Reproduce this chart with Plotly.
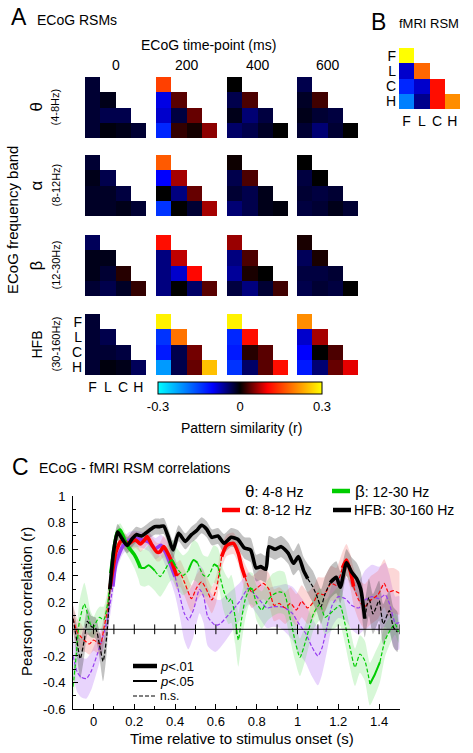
import plotly.graph_objects as go

W, H = 473, 753
FONT = "Liberation Sans, Arial, sans-serif"

# ---------------- Panel A / B data (lower-triangle RSM values; order FF, LF, LL, CF, CL, CC, HF, HL, HC, HH)
rsm_labels = ["F", "L", "C", "H"]
time_points = ["0", "200", "400", "600"]
band_symbols = ["θ", "α", "β", "HFB"]
band_ranges = ["(4-8Hz)", "(8-12Hz)", "(12-30Hz)", "(30-160Hz)"]

rsm_theta = [
    [-0.02, -0.02, -0.01, -0.02, -0.03, -0.03, -0.02, -0.005, -0.01, -0.02],
    [0.15, -0.09, 0.035, -0.08, -0.025, 0.04, -0.13, 0.02, 0.008, 0.055],
    [0.0, -0.03, 0.03, -0.01, -0.045, -0.025, -0.04, -0.03, -0.015, 0.0],
    [-0.03, -0.015, 0.025, -0.01, -0.02, -0.025, -0.02, -0.045, -0.02, 0.0],
]
rsm_alpha = [
    [-0.02, -0.01, -0.03, -0.015, -0.015, -0.025, -0.015, -0.015, -0.01, -0.02],
    [0.17, -0.1, 0.065, 0.0, -0.05, 0.04, -0.14, 0.0, -0.02, 0.065],
    [0.005, -0.03, 0.03, -0.02, -0.03, -0.01, -0.045, -0.03, -0.01, -0.005],
    [0.0, -0.025, 0.0, -0.02, -0.025, -0.02, -0.025, -0.02, -0.01, -0.02],
]
rsm_beta = [
    [-0.035, -0.01, -0.01, -0.01, -0.02, 0.015, -0.02, -0.03, -0.015, 0.02],
    [0.11, -0.05, 0.075, -0.05, -0.08, 0.105, -0.05, 0.0, -0.04, 0.035],
    [0.06, -0.05, 0.03, -0.06, 0.01, 0.0, -0.025, -0.05, -0.02, 0.025],
    [0.01, -0.035, 0.01, -0.025, -0.025, -0.02, -0.03, -0.02, -0.025, 0.0],
]
rsm_hfb = [
    [-0.02, -0.02, -0.03, -0.02, -0.02, -0.025, -0.02, -0.005, -0.01, -0.035],
    [0.29, -0.14, 0.19, -0.12, -0.03, 0.045, -0.22, -0.03, 0.04, 0.25],
    [0.29, -0.13, 0.11, -0.12, 0.015, 0.035, -0.14, -0.04, 0.035, 0.11],
    [0.21, -0.08, 0.065, -0.1, 0.0, 0.03, -0.12, -0.045, 0.04, 0.09],
]
rsm_fmri = [0.3, -0.08, 0.18, -0.13, -0.08, 0.11, -0.2, -0.055, 0.11, 0.21]

# ---------------- Panel C data
t_theta = [-0.1, -0.08, -0.06, -0.035, -0.01, 0.02, 0.045, 0.07, 0.095, 0.11,
           0.142, 0.175, 0.207, 0.24, 0.271, 0.304, 0.33, 0.352, 0.375, 0.40,
           0.424, 0.445, 0.465, 0.49, 0.52, 0.54, 0.56, 0.597, 0.62, 0.668,
           0.717, 0.758, 0.78, 0.82, 0.85, 0.88, 0.915, 0.94, 0.975, 1.005,
           1.04, 1.07, 1.10, 1.12, 1.145, 1.17, 1.20, 1.235, 1.265, 1.30,
           1.33, 1.365, 1.40, 1.43, 1.45, 1.48, 1.5]
r_theta = [-0.2, -0.32, -0.36, -0.37, -0.31, -0.18, -0.06, 0.09, 0.32, 0.495,
           0.62, 0.67, 0.68, 0.67, 0.655, 0.605, 0.63, 0.58, 0.495, 0.395,
           0.245, 0.12, 0.07, 0.145, 0.3, 0.245, 0.095, 0.03, 0.04, 0.12,
           0.21, 0.307, 0.28, 0.21, 0.16, 0.17, 0.17, 0.16, 0.12, 0.045,
           -0.03, -0.13, -0.2, -0.14, 0.02, 0.18, 0.245, 0.23, 0.18, 0.16,
           0.22, 0.245, 0.23, 0.26, 0.195, 0.045, 0.05]
sig_theta = [0, 0, 0, 0, 0, 0, 0, 0, 2, 2,
             2, 2, 2, 2, 2, 2, 2, 2, 2, 0,
             0, 0, 0, 0, 0, 0, 0, 0, 0, 0,
             0, 0, 0, 0, 0, 0, 0, 0, 0, 0,
             0, 0, 0, 0, 0, 0, 0, 0, 0, 0,
             0, 0, 0, 0, 0, 0, 0]
hw_theta = [0.15, 0.15, 0.15, 0.15, 0.14, 0.12, 0.1, 0.1, 0.08, 0.07,
            0.06, 0.06, 0.06, 0.06, 0.07, 0.08, 0.08, 0.1, 0.12, 0.14,
            0.16, 0.2, 0.22, 0.2, 0.18, 0.2, 0.22, 0.2, 0.18, 0.16,
            0.14, 0.12, 0.12, 0.14, 0.15, 0.15, 0.16, 0.18, 0.2, 0.22,
            0.22, 0.22, 0.22, 0.2, 0.18, 0.16, 0.16, 0.16, 0.18, 0.2,
            0.22, 0.24, 0.24, 0.24, 0.22, 0.2, 0.2]

t_alpha = [-0.1, -0.08, -0.06, -0.04, -0.02, 0.0, 0.02, 0.035, 0.05, 0.065,
           0.08, 0.095, 0.11, 0.134, 0.155, 0.17, 0.19, 0.207, 0.23, 0.25,
           0.263, 0.287, 0.31, 0.325, 0.344, 0.368, 0.39, 0.408, 0.424, 0.448,
           0.48, 0.505, 0.53, 0.555, 0.58, 0.603, 0.628, 0.653, 0.686, 0.71,
           0.726, 0.743, 0.775, 0.80, 0.832, 0.86, 0.885, 0.91, 0.94, 0.965,
           0.995, 1.02, 1.05, 1.085, 1.10, 1.13, 1.165, 1.19, 1.22, 1.24,
           1.26, 1.275, 1.30, 1.33, 1.36, 1.395, 1.425, 1.445, 1.47, 1.5]
r_alpha = [0.08, -0.02, -0.06, -0.09, -0.11, -0.08, -0.1, -0.11, 0.0, 0.12,
           0.3, 0.45, 0.58, 0.66, 0.66, 0.64, 0.66, 0.67, 0.64, 0.67,
           0.695, 0.63, 0.58, 0.58, 0.62, 0.56, 0.48, 0.40, 0.42, 0.345,
           0.23, 0.31, 0.357, 0.295, 0.22, 0.31, 0.545, 0.63, 0.645, 0.57,
           0.47, 0.39, 0.28, 0.307, 0.345, 0.30, 0.18, 0.195, 0.16, 0.195,
           0.145, 0.21, 0.16, 0.22, 0.27, 0.26, 0.345, 0.33, 0.46, 0.52,
           0.43, 0.32, 0.22, 0.17, 0.22, 0.26, 0.345, 0.28, 0.29, 0.27]
sig_alpha = [0, 0, 0, 0, 0, 0, 0, 0, 0, 0,
             2, 2, 2, 2, 2, 2, 2, 2, 2, 2,
             2, 2, 2, 2, 2, 2, 2, 0, 0, 0,
             0, 0, 0, 0, 0, 0, 2, 2, 2, 2,
             2, 0, 0, 0, 0, 0, 0, 0, 0, 0,
             0, 0, 0, 0, 0, 0, 0, 0, 2, 2,
             2, 0, 0, 0, 0, 0, 0, 0, 0, 0]
hw_alpha = [0.1, 0.1, 0.1, 0.08, 0.08, 0.08, 0.08, 0.08, 0.1, 0.1,
            0.1, 0.08, 0.07, 0.06, 0.06, 0.06, 0.06, 0.06, 0.06, 0.06,
            0.06, 0.06, 0.07, 0.07, 0.08, 0.08, 0.09, 0.1, 0.1, 0.1,
            0.1, 0.1, 0.1, 0.1, 0.1, 0.1, 0.09, 0.08, 0.08, 0.08,
            0.09, 0.1, 0.12, 0.12, 0.12, 0.12, 0.12, 0.12, 0.12, 0.12,
            0.12, 0.12, 0.12, 0.12, 0.12, 0.13, 0.13, 0.13, 0.12, 0.12,
            0.13, 0.14, 0.15, 0.17, 0.18, 0.18, 0.18, 0.18, 0.17, 0.16]

t_beta = [-0.1, -0.085, -0.07, -0.045, -0.03, -0.015, 0.0, 0.015, 0.03, 0.05,
          0.07, 0.085, 0.1, 0.115, 0.13, 0.145, 0.16, 0.18, 0.2, 0.22,
          0.23, 0.25, 0.27, 0.30, 0.327, 0.35, 0.37, 0.385, 0.40, 0.416,
          0.44, 0.465, 0.49, 0.51, 0.539, 0.56, 0.59, 0.61, 0.637, 0.662,
          0.675, 0.694, 0.71, 0.725, 0.743, 0.765, 0.78, 0.80, 0.825, 0.85,
          0.88, 0.91, 0.935, 0.963, 0.988, 1.012, 1.045, 1.078, 1.11, 1.135,
          1.176, 1.208, 1.233, 1.257, 1.282, 1.306, 1.33, 1.355, 1.38, 1.404,
          1.429, 1.453, 1.478, 1.495]
r_beta = [-0.43, -0.2, 0.05, 0.19, 0.12, 0.04, 0.015, 0.06, 0.09, 0.07,
          0.2, 0.42, 0.6, 0.72, 0.745, 0.7, 0.64, 0.6, 0.56, 0.5,
          0.46, 0.46, 0.48, 0.44, 0.395, 0.445, 0.5, 0.52, 0.48, 0.445,
          0.405, 0.44, 0.52, 0.5, 0.405, 0.395, 0.49, 0.47, 0.295, 0.21,
          0.23, 0.095, -0.08, 0.07, 0.22, 0.31, 0.3, 0.195, 0.145, 0.21,
          0.26, 0.28, 0.27, 0.09, -0.085, -0.21, -0.06, 0.115, 0.19, 0.09,
          0.14, 0.178, 0.04, -0.135, -0.285, -0.185, -0.235, -0.41, -0.335, -0.247,
          -0.085, -0.01, 0.04, -0.02]
sig_beta = [0, 0, 0, 0, 0, 0, 0, 0, 0, 0,
            0, 2, 2, 2, 2, 2, 2, 2, 2, 2,
            1, 1, 1, 0, 0, 0, 1, 1, 0, 0,
            0, 1, 1, 0, 0, 0, 1, 0, 0, 0,
            0, 0, 0, 0, 0, 1, 0, 0, 0, 0,
            0, 0, 0, 0, 0, 0, 0, 0, 0, 0,
            0, 0, 0, 0, 0, 0, 0, 1, 1, 0,
            0, 0, 0, 0]
hw_beta = [0.1, 0.12, 0.15, 0.16, 0.14, 0.1, 0.08, 0.08, 0.08, 0.1,
           0.1, 0.08, 0.06, 0.05, 0.05, 0.06, 0.07, 0.08, 0.1, 0.12,
           0.13, 0.14, 0.15, 0.15, 0.15, 0.15, 0.15, 0.15, 0.15, 0.15,
           0.15, 0.15, 0.15, 0.15, 0.15, 0.15, 0.14, 0.14, 0.15, 0.17,
           0.18, 0.2, 0.2, 0.18, 0.15, 0.12, 0.12, 0.13, 0.14, 0.15,
           0.16, 0.16, 0.16, 0.16, 0.15, 0.14, 0.13, 0.12, 0.12, 0.13,
           0.14, 0.15, 0.15, 0.15, 0.14, 0.14, 0.15, 0.16, 0.16, 0.15,
           0.12, 0.1, 0.08, 0.08]

t_hfb = [-0.1, -0.08, -0.065, -0.045, -0.03, -0.01, 0.01, 0.03, 0.047, 0.065,
         0.08, 0.1, 0.118, 0.14, 0.165, 0.19, 0.21, 0.235, 0.255, 0.28,
         0.3, 0.325, 0.344, 0.365, 0.39, 0.417, 0.45, 0.48, 0.505, 0.53,
         0.555, 0.58, 0.61, 0.64, 0.675, 0.707, 0.74, 0.77, 0.797, 0.82,
         0.845, 0.86, 0.89, 0.92, 0.955, 0.98, 1.005, 1.03, 1.05, 1.075,
         1.095, 1.115, 1.135, 1.16, 1.19, 1.21, 1.24, 1.265, 1.29, 1.31,
         1.33, 1.35, 1.37, 1.40, 1.42, 1.45, 1.47, 1.49]
r_hfb = [0.08, -0.1, -0.22, -0.08, 0.06, 0.02, 0.01, -0.12, -0.24, -0.05,
         0.3, 0.6, 0.73, 0.68, 0.63, 0.68, 0.71, 0.70, 0.72, 0.75,
         0.77, 0.77, 0.775, 0.70, 0.595, 0.72, 0.66, 0.71, 0.74, 0.78,
         0.75, 0.69, 0.70, 0.645, 0.69, 0.675, 0.61, 0.595, 0.46, 0.47,
         0.45, 0.62, 0.60, 0.62, 0.57, 0.495, 0.545, 0.44, 0.38, 0.32,
         0.25, 0.17, 0.265, 0.35, 0.39, 0.315, 0.50, 0.43, 0.38, 0.30,
         0.08, 0.24, 0.115, 0.215, 0.04, 0.14, 0.015, -0.02]
sig_hfb = [0, 0, 0, 0, 0, 0, 0, 0, 0, 0,
           2, 2, 2, 2, 2, 2, 2, 2, 2, 2,
           2, 2, 2, 2, 2, 2, 2, 2, 2, 2,
           2, 2, 2, 2, 2, 2, 2, 2, 2, 2,
           2, 2, 2, 2, 2, 2, 2, 2, 0, 0,
           0, 0, 0, 2, 2, 2, 2, 2, 2, 2,
           0, 0, 0, 0, 0, 0, 0, 0]
hw_hfb = [0.1, 0.12, 0.15, 0.12, 0.1, 0.08, 0.08, 0.1, 0.15, 0.12,
          0.1, 0.07, 0.06, 0.06, 0.06, 0.06, 0.06, 0.06, 0.06, 0.06,
          0.06, 0.06, 0.06, 0.06, 0.07, 0.06, 0.06, 0.06, 0.06, 0.06,
          0.06, 0.06, 0.06, 0.07, 0.07, 0.07, 0.08, 0.09, 0.1, 0.1,
          0.1, 0.08, 0.08, 0.08, 0.08, 0.09, 0.1, 0.1, 0.11, 0.12,
          0.12, 0.13, 0.13, 0.12, 0.12, 0.12, 0.1, 0.11, 0.12, 0.13,
          0.14, 0.14, 0.15, 0.15, 0.15, 0.15, 0.15, 0.15]

series_names = ["θ", "α", "β", "HFB"]
series_text = [": 4-8 Hz", ": 8-12 Hz", ": 12-30 Hz", ": 30-160 Hz"]
x_ticks = [0, 0.2, 0.4, 0.6, 0.8, 1.0, 1.2, 1.4]
x_ticktext = ["0", "0.2", "0.4", "0.6", "0.8", "1", "1.2", "1.4"]
y_ticks = [-0.6, -0.4, -0.2, 0, 0.2, 0.4, 0.6, 0.8, 1.0]
y_ticktext = ["-0.6", "-0.4", "-0.2", "0", "0.2", "0.4", "0.6", "0.8", "1"]
zero_line_ticks = [0, 0.1, 0.2, 0.3, 0.4, 0.5, 0.6, 0.7, 0.8, 0.9, 1.0, 1.1, 1.2, 1.3, 1.4, 1.5]

for a, b in [(t_theta, r_theta), (t_theta, sig_theta), (t_theta, hw_theta),
             (t_alpha, r_alpha), (t_alpha, sig_alpha), (t_alpha, hw_alpha),
             (t_beta, r_beta), (t_beta, sig_beta), (t_beta, hw_beta),
             (t_hfb, r_hfb), (t_hfb, sig_hfb), (t_hfb, hw_hfb)]:
    assert len(a) == len(b), (len(a), len(b))

# ---------------- styling
COLORSCALE = [
    [0.0, "rgb(0,255,255)"], [0.167, "rgb(0,128,255)"], [0.333, "rgb(0,0,255)"],
    [0.5, "rgb(0,0,0)"], [0.667, "rgb(255,0,0)"], [0.833, "rgb(255,128,0)"],
    [1.0, "rgb(255,255,0)"],
]


def px(x):
    return x / W


def py(y):
    return 1 - y / H


def tri(vals):
    m = [[None] * 4 for _ in range(4)]
    k = 0
    for i in range(4):
        for j in range(i + 1):
            m[i][j] = vals[k]
            k += 1
    return m


fig = go.Figure()
layout_axes = {}

col_x0 = [85, 156, 227, 297]
row_y0 = [77, 155, 235, 314]
CELL = 61
bands = [rsm_theta, rsm_alpha, rsm_beta, rsm_hfb]


def add_rsm(idx, vals, x0, y0, labels=False, showscale=False):
    tr = go.Heatmap(
        z=tri(vals), x=[0, 1, 2, 3], y=[0, 1, 2, 3],
        xaxis=f"x{idx}", yaxis=f"y{idx}",
        colorscale=COLORSCALE, zmin=-0.3, zmax=0.3,
        showscale=showscale, hoverinfo="skip",
    )
    if showscale:
        tr.colorbar = dict(
            orientation="h", x=px(240), xanchor="center", y=py(396), yanchor="middle",
            len=164, lenmode="pixels", thickness=12, thicknessmode="pixels",
            outlinewidth=1, outlinecolor="black",
            tickvals=[-0.3, 0, 0.3], ticktext=["-0.3", "0", "0.3"], ticks="",
            tickfont=dict(size=13, family=FONT, color="black"), xpad=0, ypad=0,
        )
    fig.add_trace(tr)
    common = dict(showgrid=False, zeroline=False, ticks="", showline=False, fixedrange=True,
                  automargin=False, tickfont=dict(size=14, family=FONT, color="black"))
    xa = dict(domain=[px(x0), px(x0 + CELL)], anchor=f"y{idx}", range=[-0.5, 3.5], **common)
    ya = dict(domain=[py(y0 + CELL), py(y0)], anchor=f"x{idx}", range=[3.5, -0.5], **common)
    if labels:
        for a in (xa, ya):
            a.update(tickmode="array", tickvals=[0, 1, 2, 3], ticktext=rsm_labels,
                     showticklabels=True, ticklabelstandoff=2)
    else:
        xa["showticklabels"] = False
        ya["showticklabels"] = False
    layout_axes[f"xaxis{idx}"] = xa
    layout_axes[f"yaxis{idx}"] = ya


idx = 2
for b in range(4):
    for c in range(4):
        add_rsm(idx, bands[b][c], col_x0[c], row_y0[b],
                labels=(b == 3 and c == 0), showscale=(b == 0 and c == 0))
        idx += 1
add_rsm(idx, rsm_fmri, 399, 48, labels=True)

# ---------------- Panel C
colors = ["rgb(150,60,240)", "rgb(255,0,0)", "rgb(0,205,0)", "rgb(0,0,0)"]
band_fill = ["rgba(185,125,245,0.33)", "rgba(245,110,110,0.28)",
             "rgba(110,225,110,0.28)", "rgba(70,70,70,0.33)"]
series = [(t_theta, r_theta, sig_theta, hw_theta),
          (t_alpha, r_alpha, sig_alpha, hw_alpha),
          (t_beta, r_beta, sig_beta, hw_beta),
          (t_hfb, r_hfb, sig_hfb, hw_hfb)]

for (t, r, s, hw), fc in zip(series, band_fill):
    up = [v + h for v, h in zip(r, hw)]
    lo = [v - h for v, h in zip(r, hw)]
    fig.add_trace(go.Scatter(
        x=list(t) + list(t)[::-1], y=up + lo[::-1], fill="toself", fillcolor=fc,
        mode="lines", line=dict(width=0, shape="spline", smoothing=0.6),
        hoverinfo="skip", showlegend=False, xaxis="x", yaxis="y"))

fig.add_shape(type="line", xref="x", yref="y", x0=-0.1, x1=1.5, y0=0, y1=0,
              line=dict(color="black", width=1))
fig.add_trace(go.Scatter(x=zero_line_ticks, y=[0] * len(zero_line_ticks), mode="markers",
                         marker=dict(symbol="line-ns", size=7, line=dict(width=1, color="black")),
                         hoverinfo="skip", showlegend=False))

STY = {2: dict(width=3.6, dash="solid"), 1: dict(width=2.0, dash="solid"),
       0: dict(width=1.2, dash="4px,2px")}

for (t, r, s, hw), col in zip(series, colors):
    segs = []
    st = 0
    for i in range(1, len(t)):
        if s[i] != s[st]:
            segs.append((s[st], t[st:i + 1], r[st:i + 1]))
            st = i
    segs.append((s[st], t[st:], r[st:]))
    for lvl, tt, rr in segs:
        if len(tt) < 2:
            continue
        fig.add_trace(go.Scatter(
            x=tt, y=rr, mode="lines",
            line=dict(color=col, width=STY[lvl]["width"], dash=STY[lvl]["dash"],
                      shape="spline", smoothing=0.6),
            hoverinfo="skip", showlegend=False))

layout_axes["xaxis"] = dict(
    domain=[px(73.1), px(399.5)], anchor="y", range=[-0.1, 1.5],
    tickmode="array", tickvals=x_ticks, ticktext=x_ticktext,
    ticks="inside", ticklen=5, tickcolor="black",
    minor=dict(dtick=0.1, tick0=0, ticks="inside", ticklen=3, tickcolor="black"),
    showline=True, linecolor="black", linewidth=1, showgrid=False, zeroline=False,
    automargin=False, tickfont=dict(size=13, family=FONT, color="black"), fixedrange=True)
layout_axes["yaxis"] = dict(
    domain=[py(709.3), py(496)], anchor="x", range=[-0.6, 1.0],
    tickmode="array", tickvals=y_ticks, ticktext=y_ticktext,
    ticks="inside", ticklen=5, tickcolor="black",
    minor=dict(dtick=0.1, tick0=0, ticks="inside", ticklen=3, tickcolor="black"),
    showline=True, linecolor="black", linewidth=1, showgrid=False, zeroline=False,
    automargin=False, tickfont=dict(size=13, family=FONT, color="black"),
    ticklabelstandoff=4, fixedrange=True)

# ---------------- annotations
anns = []


def ann(text, x, y, size, xanchor="center", angle=0):
    anns.append(dict(text=text, x=px(x), y=py(y), xref="paper", yref="paper",
                     xanchor=xanchor, yanchor="middle", showarrow=False, textangle=angle,
                     font=dict(size=size, family=FONT, color="black")))


ann("A", 9, 17, 23, "left")
ann("ECoG RSMs", 35, 20, 14, "left")
ann("ECoG time-point (ms)", 208, 45, 14)
for c, lab in enumerate(time_points):
    ann(lab, col_x0[c] + CELL / 2, 65, 14)
ann("B", 369, 22, 23, "left")
ann("fMRI RSM", 397, 24, 13, "left")
ann("ECoG frequency band", 13, 220, 15, angle=-90)
for b in range(4):
    cy = row_y0[b] + CELL / 2
    ann(band_symbols[b], 36, cy, 17 if b < 3 else 14, angle=-90)
    ann(band_ranges[b], 55, cy, 11, angle=-90)
ann("Pattern similarity (r)", 241, 428, 14)

ann("C", 10, 467, 23, "left")
ann("ECoG - fMRI RSM correlations", 37, 468, 14, "left")
ann("Pearson correlation (r)", 26, 602, 15, angle=-90)
ann("Time relative to stimulus onset (s)", 242, 738, 15)

# series legend
leg_pos = [(222, 491), (222, 510), (332, 491), (333, 510)]
shapes = []
for (lx, ly), col, nm, tx in zip(leg_pos, colors, series_names, series_text):
    shapes.append(dict(type="line", xref="paper", yref="paper", x0=px(lx), x1=px(lx + 18),
                       y0=py(ly), y1=py(ly), line=dict(color=col, width=4.5)))
    if nm == "HFB":
        ann(nm + tx, lx + 19, ly, 14, "left")
    else:
        ann(f"<span style='font-size:17px'>{nm}</span>{tx}", lx + 21, ly, 14, "left")

# significance legend
sig_leg = [(666, 4.5, "solid", "<i>p</i><.01", 13), (681, 2, "solid", "<i>p</i><.05", 13),
           (696, 1, "4px,2px", "n.s.", 12)]
for ly, wdt, dsh, txt, sz in sig_leg:
    shapes.append(dict(type="line", xref="paper", yref="paper", x0=px(133), x1=px(157),
                       y0=py(ly), y1=py(ly), line=dict(color="black", width=wdt, dash=dsh)))
    ann(txt, 158, ly, sz, "left")

fig.update_layout(
    width=W, height=H, margin=dict(l=0, r=0, t=0, b=0, pad=0, autoexpand=False),
    paper_bgcolor="white", plot_bgcolor="rgba(0,0,0,0)",
    showlegend=False, annotations=anns, shapes=shapes,
    font=dict(family=FONT, color="black"),
    **layout_axes,
)

fig.write_html("out.html", config={"displayModeBar": False},
               post_script="document.body.style.margin='0px';")
